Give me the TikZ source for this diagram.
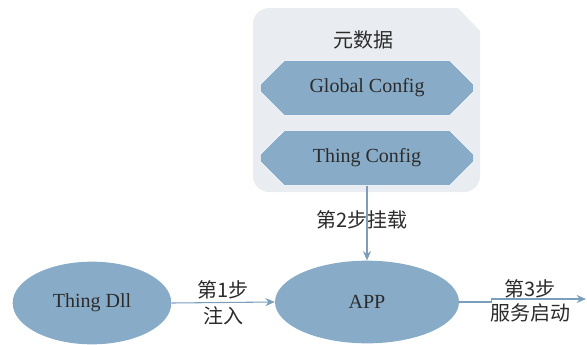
\documentclass[tikz,border=0pt]{standalone}
\usepackage{fontspec}
\setmainfont{Liberation Serif}
\newfontfamily\cjk{Noto Sans CJK SC}
\usepackage{tikz}
\usetikzlibrary{shapes.misc,shapes.geometric,arrows.meta}

\definecolor{nodeblue}{HTML}{88ACC8}
\definecolor{lineblue}{HTML}{7B9EBD}
\definecolor{metagray}{HTML}{E9ECF0}
\definecolor{textgray}{HTML}{2B2B2B}

\tikzset{
  txt/.style={text=textgray,font=\fontsize{15}{17}\selectfont},
  cfgbox/.style={txt,chamfered rectangle,chamfered rectangle xsep=15pt,
    chamfered rectangle ysep=11pt,fill=nodeblue,draw=white,thin,
    minimum width=160pt,minimum height=41pt,inner sep=0pt},
  blob/.style={txt,ellipse,fill=nodeblue,minimum height=62pt,inner sep=0pt},
  conn/.style={draw=lineblue,thick,-{Stealth[length=7pt,width=6pt]}},
}

\begin{document}
\begin{tikzpicture}[x=0.75pt,y=-0.75pt]
  \useasboundingbox (0,0) rectangle (587,344);

  % metadata panel
  \fill[metagray] (480,60) [rounded corners=12pt] -- (480,192) -- (253,192) -- (253,8) [sharp corners] -- (458,8) -- (480,31) -- cycle;
  \node[txt] (meta) at (363,40) {\cjk 元数据};
  \node[cfgbox] (globalcfg) at (367,88) {Global Config};
  \node[cfgbox] (thingcfg) at (367,158) {Thing Config};

  % main nodes
  \node[blob,minimum width=119pt] (dll) at (92,303) {Thing Dll};
  \node[blob,minimum width=138pt] (app) at (367,302) {APP};
  \coordinate (svcend) at (586,299);

  % steps
  \draw[conn] (thingcfg.south) -- (app.north)
    node[txt,pos=0.46,xshift=-4pt] {\cjk 第2步挂载};
  \draw[conn] (dll.east) -- (app.west)
    node[txt,midway,above=-1pt] {\cjk 第1步}
    node[txt,midway,below=-1pt] {\cjk 注入};
  \draw[conn] (app.east) -- ++(32,0) |- (svcend);
  \node[txt] (step3) at (530,289) {\cjk 第3步};
  \node[txt] (step3b) at (530,313) {\cjk 服务启动};
\end{tikzpicture}
\end{document}
